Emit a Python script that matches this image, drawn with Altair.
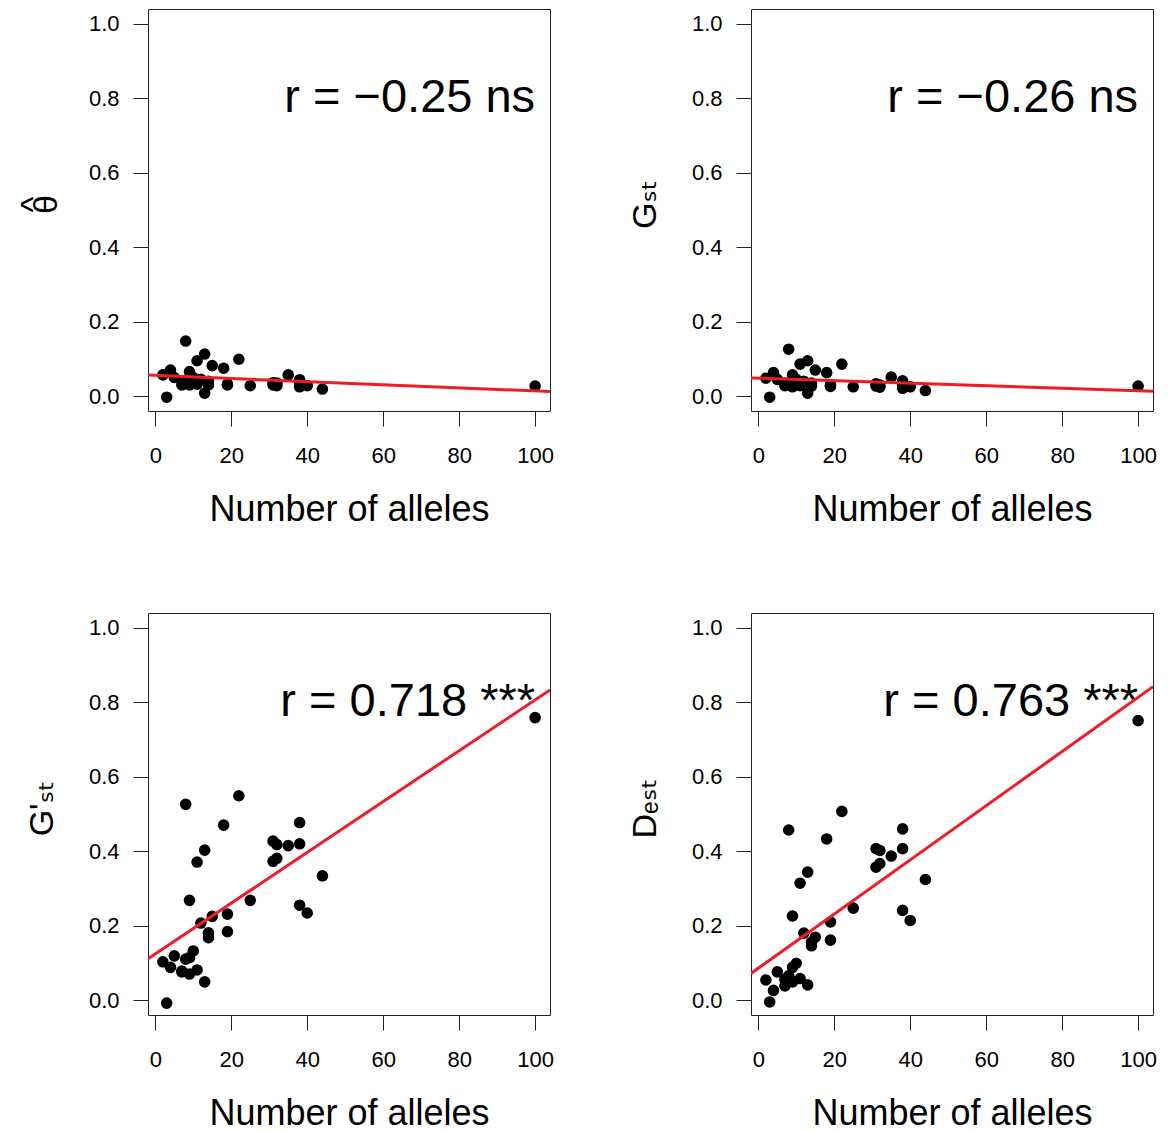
import altair as alt
import pandas as pd

# Number of alleles per locus
alleles = [2, 3, 4, 5, 7, 7, 8, 8, 9, 9, 9, 10, 11, 11, 12, 13, 13, 14, 14, 15,
           18, 19, 19, 22, 25, 31, 31, 32, 32, 35, 38, 38, 38, 40, 44, 100]
# theta-hat
theta = [0.057, -0.003, 0.070, 0.050, 0.030, 0.040, 0.148, 0.035, 0.066, 0.030,
         0.045, 0.050, 0.095, 0.032, 0.045, 0.113, 0.008, 0.040, 0.030, 0.082,
         0.075, 0.030, 0.032, 0.099, 0.028, 0.036, 0.030, 0.035, 0.028, 0.057,
         0.044, 0.035, 0.025, 0.028, 0.019, 0.027]
# Gst
gst = [0.048, -0.003, 0.063, 0.045, 0.028, 0.035, 0.126, 0.030, 0.057, 0.025,
       0.040, 0.045, 0.086, 0.028, 0.040, 0.095, 0.008, 0.035, 0.027, 0.070,
       0.063, 0.026, 0.030, 0.086, 0.025, 0.033, 0.027, 0.030, 0.024, 0.051,
       0.041, 0.030, 0.021, 0.025, 0.015, 0.027]
# G'st
gpst = [0.103, -0.008, 0.088, 0.119, 0.078, 0.076, 0.526, 0.110, 0.268, 0.070,
        0.114, 0.132, 0.371, 0.081, 0.207, 0.403, 0.049, 0.181, 0.168, 0.225,
        0.470, 0.231, 0.184, 0.549, 0.268, 0.427, 0.373, 0.418, 0.381, 0.415,
        0.477, 0.420, 0.255, 0.234, 0.334, 0.759]
# Dest
dest = [0.054, -0.005, 0.026, 0.076, 0.056, 0.038, 0.457, 0.065, 0.226, 0.049,
        0.088, 0.099, 0.314, 0.058, 0.180, 0.344, 0.041, 0.155, 0.146, 0.169,
        0.433, 0.210, 0.161, 0.507, 0.247, 0.407, 0.357, 0.402, 0.367, 0.387,
        0.460, 0.407, 0.241, 0.214, 0.324, 0.751]

panel_cols = ["theta", "gst", "gpst", "dest"]
panel_titles = [["^", "θ"], "G\u209b\u209c", "G'\u209b\u209c", "D\u2091\u209b\u209c"]
r_labels = ["r = \u22120.25 ns", "r = \u22120.26 ns", "r = 0.718 ***", "r = 0.763 ***"]
x_ticks = [0, 20, 40, 60, 80, 100]
y_ticks = [0.0, 0.2, 0.4, 0.6, 0.8, 1.0]
r_pos = [100, 0.8]

df = pd.DataFrame({"alleles": alleles, "theta": theta, "gst": gst,
                   "gpst": gpst, "dest": dest})

FONT = "'Liberation Sans', 'DejaVu Sans', Arial, sans-serif"
W = 402
H = 402
XDOM = [-1.92, 103.92]
YDOM = [-0.04, 1.04]


def panel(col, ytitle, rlabel):
    xs = alt.Scale(domain=XDOM, nice=False, zero=False)
    ys = alt.Scale(domain=YDOM, nice=False, zero=False)
    xaxis = alt.Axis(values=x_ticks, format="d", title="Number of alleles",
                     labelPadding=19,
                     titleX=W / 2, titleY=98, titleAlign="center",
                     titleBaseline="middle", titleFontSize=36)
    multi = isinstance(ytitle, list)
    yaxis = alt.Axis(values=y_ticks, format=".1f", title=ytitle,
                     titleX=-115 if multi else -106, titleY=H / 2 - 6,
                     titleAngle=270,
                     titleAlign="center", titleBaseline="middle",
                     titleFontSize=34, titleLineHeight=13 if multi else 34)
    base = alt.Chart(df)
    pts = base.mark_circle(size=135, color="black", opacity=1).encode(
        x=alt.X("alleles:Q", scale=xs, axis=xaxis),
        y=alt.Y(f"{col}:Q", scale=ys, axis=yaxis),
    )
    txt = alt.Chart(pd.DataFrame({"x": [r_pos[0]], "y": [r_pos[1]], "t": [rlabel]})).mark_text(
        align="right", baseline="middle", fontSize=47, font=FONT, color="black"
    ).encode(
        x=alt.X("x:Q", scale=xs),
        y=alt.Y("y:Q", scale=ys),
        text="t:N",
    )
    line = base.transform_regression(
        "alleles", col, extent=XDOM
    ).mark_line(color="#ee1c24", strokeWidth=3, clip=True).encode(
        x=alt.X("alleles:Q", scale=xs),
        y=alt.Y(f"{col}:Q", scale=ys),
    )
    return alt.layer(pts, txt, line).properties(width=W, height=H)


panels = [panel(c, t, r) for c, t, r in zip(panel_cols, panel_titles, r_labels)]

chart = alt.vconcat(
    alt.hconcat(panels[0], panels[1], spacing=73),
    alt.hconcat(panels[2], panels[3], spacing=73),
    spacing=84,
).properties(
    padding={"left": 7, "top": 0, "right": 0, "bottom": 0}
).configure_view(
    stroke="#222222", strokeWidth=1
).configure_axis(
    grid=False, domain=False, tickSize=15, tickColor="#222222", tickWidth=1,
    labelFont=FONT, labelFontSize=22, labelColor="black", labelPadding=14,
    titleFont=FONT, titleFontWeight="normal", titleColor="black",
)

chart.save("out.html", embed_options={"renderer": "svg", "actions": False})
